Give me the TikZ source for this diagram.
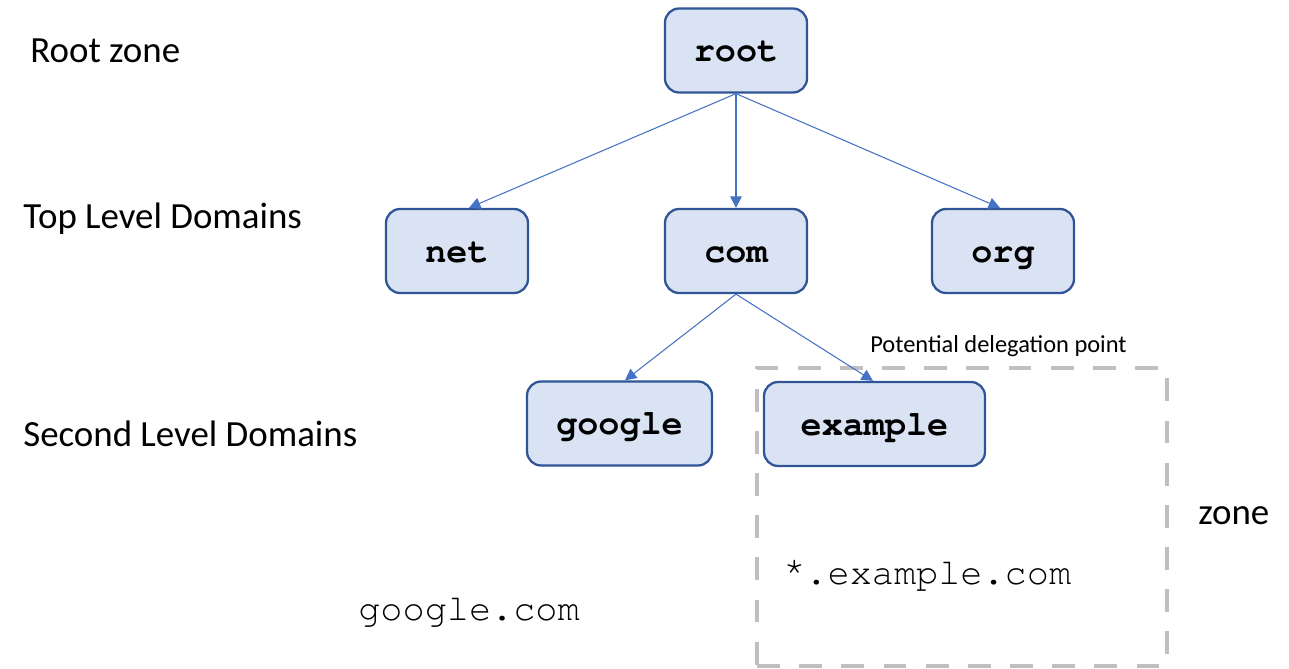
\documentclass[tikz,border=0pt]{standalone}
\usepackage[T1]{fontenc}
\usepackage{fontspec}
\setmainfont{Carlito}
\newcommand\courierfont{\fontencoding{T1}\fontfamily{pcr}\selectfont}
\usetikzlibrary{arrows.meta}
\definecolor{boxfill}{HTML}{DAE3F3}
\definecolor{boxline}{HTML}{2F5597}
\definecolor{arrowblue}{HTML}{4472C4}
\definecolor{zonegray}{HTML}{BFBFBF}
\tikzset{
  dnsbox/.style={draw=boxline, fill=boxfill, line width=1.3pt, rounded corners=8pt,
    minimum height=1.68cm, inner sep=0pt, text height=14pt, text depth=1pt,
    font=\courierfont\fontseries{b}\fontsize{20}{24}\selectfont},
  arr/.style={draw=arrowblue, line width=0.6pt, -{Triangle[length=6.5pt,width=6.5pt]}},
  lvl/.style={anchor=west, inner sep=0pt, font=\fontsize{21}{25}\selectfont},
  plain/.style={anchor=west, inner sep=0pt, font=\courierfont\fontsize{21}{25}\selectfont},
}
\begin{document}
\begin{tikzpicture}[x=0.02cm,y=-0.02cm]
\useasboundingbox (0,0) rectangle (1289,669);
% zone box
\node[draw=zonegray, line width=2.3pt, dash pattern=on 13pt off 11pt,
  minimum width=8.2cm, minimum height=5.96cm, inner sep=0pt] (zonebox) at (962,517) {};
% boxes
\node[dnsbox, minimum width=2.84cm] (root) at (736,50.5) {root};
\node[dnsbox, minimum width=2.84cm] (net) at (457,251) {net};
\node[dnsbox, minimum width=2.84cm] (com) at (736,251) {com};
\node[dnsbox, minimum width=2.84cm] (org) at (1003,251) {org};
\node[dnsbox, minimum width=3.7cm] (google) at (619.5,423.5) {google};
\node[dnsbox, minimum width=4.42cm] (example) at (874.5,424) {example};
% arrows
\draw[arr] (root.south) -- ([xshift=0.24cm]net.north);
\draw[arr] (root.south) -- (com.north);
\draw[arr] (root.south) -- ([xshift=-0.06cm]org.north);
\draw[arr] (com.south) -- ([xshift=0.11cm]google.north);
\draw[arr] (com.south) -- ([xshift=-0.03cm]example.north);
% labels
\node[lvl] (lroot) at (30,51) {Root zone};
\node[lvl] (ltld) at (23,219) {Top Level Domains};
\node[lvl] (lsld) at (23,434) {Second Level Domains};
\node[lvl] (lzone) at (1198,516) {zone};
\node[anchor=west, inner sep=0pt, font=\fontsize{13.9}{16}\selectfont] (ldeleg) at (870,346) {Potential delegation point};
\node[plain] (gcom) at (358,612) {google.com};
\node[plain] (ecom) at (783,575) {\raisebox{0.22em}{*}.example.com};
\end{tikzpicture}
\end{document}
